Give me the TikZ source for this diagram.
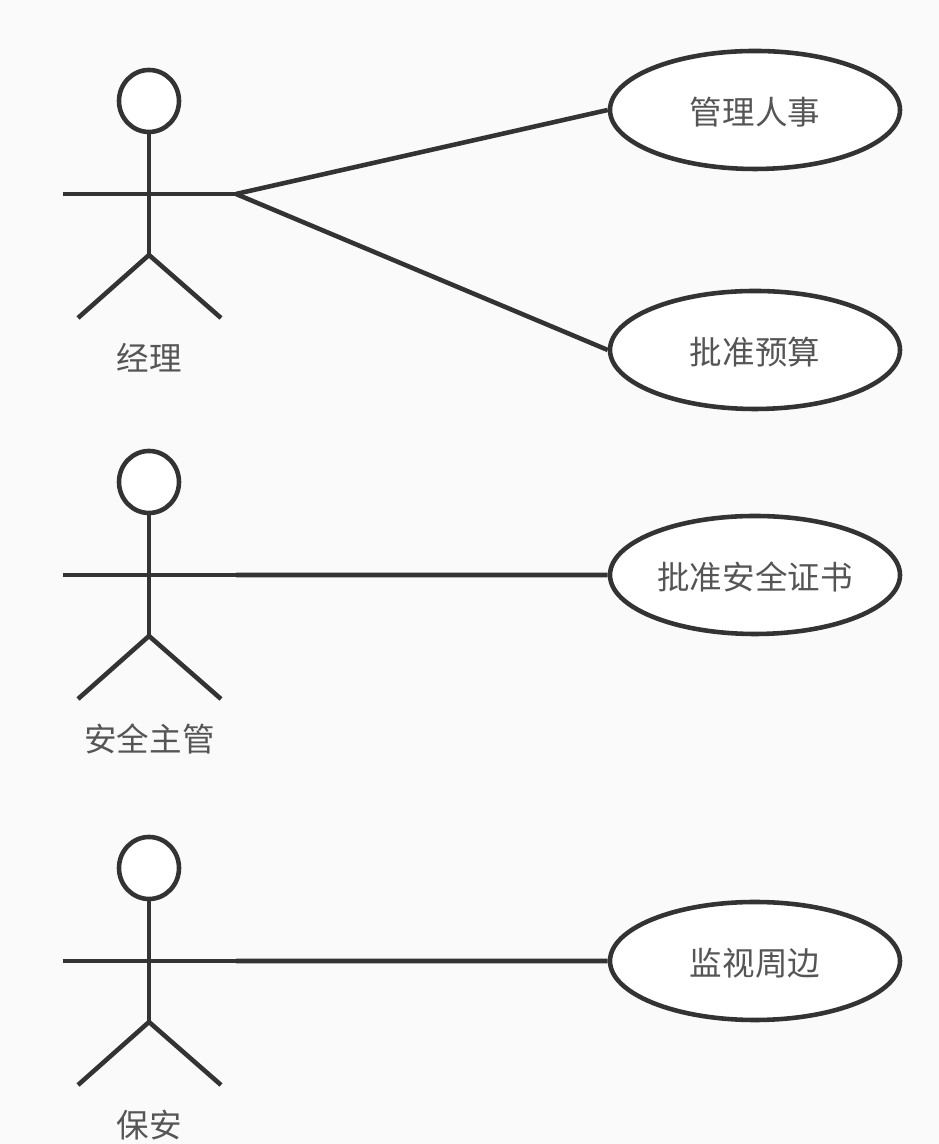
\documentclass[tikz,border=0pt]{standalone}
\usepackage{fontspec}
\usetikzlibrary{shapes.geometric}
\newfontfamily\cjk{Noto Sans CJK SC}
\definecolor{pagebg}{HTML}{FAFAFA}
\definecolor{inkline}{HTML}{333333}
\definecolor{inktext}{HTML}{555555}
\tikzset{
    stick/.style={line width=1.3pt, inkline},
    usecase/.style={ellipse, draw=inkline, line width=1.3pt, fill=white, minimum width=2.9cm, minimum height=1.18cm, inner sep=0pt, text=inktext, text height=0.34cm, text depth=0.04cm, font=\cjk\fontsize{9.25}{11}\selectfont},
    headnode/.style={ellipse, draw=inkline, line width=1.3pt, fill=white, minimum width=0.6cm, minimum height=0.62cm, inner sep=0pt},
    actorname/.style={text=inktext, font=\cjk\fontsize{9.25}{11}\selectfont, inner sep=0pt}
}

\begin{document}
\begin{tikzpicture}
    % Fix the page
    \useasboundingbox (0,0) rectangle (9.39,11.44);
    \fill[pagebg] (0,0) rectangle (9.39,11.44);

    % Draw the actors
    \foreach \i/\y/\who in {1/9.50/经理, 2/5.69/安全主管, 3/1.83/保安} {
        \begin{scope}[yshift=\y cm]
            \node[headnode] (head\i) at (1.49,0.93) {};
            \coordinate (handl\i) at (0.63,0);
            \coordinate (handr\i) at (2.36,0);
            \coordinate (hip\i) at (1.49,-0.61);
            \coordinate (footl\i) at (0.78,-1.24);
            \coordinate (footr\i) at (2.21,-1.24);
            \node[actorname] (name\i) at (1.495,-1.64) {\who};
            \draw[stick] (head\i.south) -- (hip\i);
            \draw[stick] (handl\i) -- (handr\i);
            \draw[stick] (footl\i) -- (hip\i) -- (footr\i);
        \end{scope}
    }

    % Use cases on the right
    \node[usecase] (staff) at (7.55,10.34) {管理人事};
    \node[usecase] (budget) at (7.55,7.94) {批准预算};
    \node[usecase] (cert) at (7.55,5.69) {批准安全证书};
    \node[usecase] (watch) at (7.55,1.83) {监视周边};

    % Connect actors to use cases
    \draw[stick] (handr1) -- (staff.west);
    \draw[stick] (handr1) -- (budget.west);
    \draw[stick] (handr2) -- (cert.west);
    \draw[stick] (handr3) -- (watch.west);
\end{tikzpicture}
\end{document}
